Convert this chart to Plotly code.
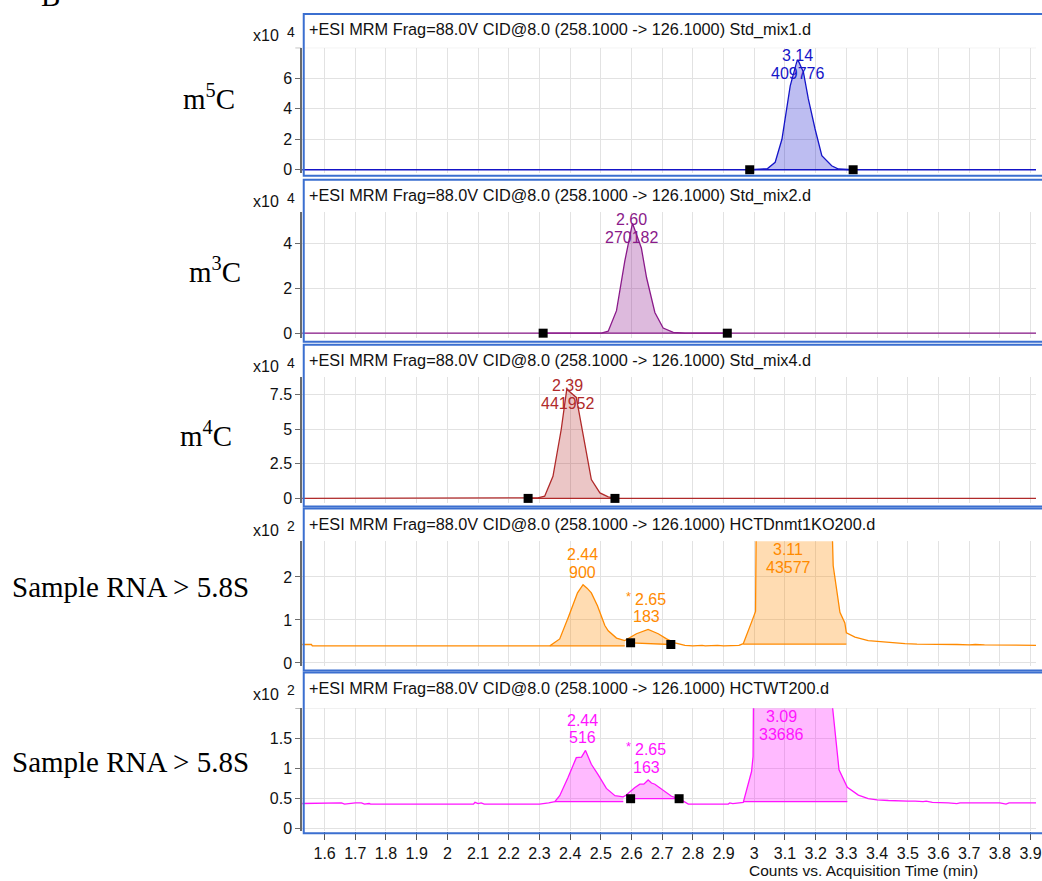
import plotly.graph_objects as go

W, H = 1042, 881

# ---------------- shared axis text ----------------
x_tick_vals = [1.6, 1.7, 1.8, 1.9, 2.0, 2.1, 2.2, 2.3, 2.4, 2.5, 2.6, 2.7,
               2.8, 2.9, 3.0, 3.1, 3.2, 3.3, 3.4, 3.5, 3.6, 3.7, 3.8, 3.9]
x_tick_text = ["1.6", "1.7", "1.8", "1.9", "2", "2.1", "2.2", "2.3", "2.4", "2.5", "2.6", "2.7",
               "2.8", "2.9", "3", "3.1", "3.2", "3.3", "3.4", "3.5", "3.6", "3.7", "3.8", "3.9"]
x_title = "Counts vs. Acquisition Time (min)"
figure_letter = "B"

headers = [
    "+ESI MRM Frag=88.0V CID@8.0 (258.1000 -> 126.1000) Std_mix1.d",
    "+ESI MRM Frag=88.0V CID@8.0 (258.1000 -> 126.1000) Std_mix2.d",
    "+ESI MRM Frag=88.0V CID@8.0 (258.1000 -> 126.1000) Std_mix4.d",
    "+ESI MRM Frag=88.0V CID@8.0 (258.1000 -> 126.1000) HCTDnmt1KO200.d",
    "+ESI MRM Frag=88.0V CID@8.0 (258.1000 -> 126.1000) HCTWT200.d",
]
row_labels = ["m<sup>5</sup>C", "m<sup>3</sup>C", "m<sup>4</sup>C",
              "Sample RNA > 5.8S", "Sample RNA > 5.8S"]
exponents = ["4", "4", "4", "2", "2"]

# ---------------- panel 1: m5C standard (x10^4 counts) ----------------
m5c_time = [1.52, 2.985, 3.043, 3.068, 3.090, 3.117, 3.138, 3.142, 3.160, 3.176,
            3.198, 3.220, 3.252, 3.274, 3.322, 3.93]
m5c_counts = [0.0, 0.0, 0.08, 0.49, 2.0, 5.5, 7.05, 7.2, 6.4, 4.64,
              2.67, 0.92, 0.26, 0.05, 0.0, 0.0]
m5c_int_start = [2.985]
m5c_int_end = [3.322]
m5c_base_start = [0.0]
m5c_base_end = [0.0]
m5c_int_marked = [True]
m5c_peak_rt = ["3.14"]
m5c_peak_area = ["409776"]
m5c_peak_star = [False]
m5c_ytick_vals = [0, 2, 4, 6]
m5c_ytick_text = ["0", "2", "4", "6"]
m5c_top_tick = [8]

# ---------------- panel 2: m3C standard (x10^4 counts) ----------------
m3c_time = [1.52, 2.312, 2.502, 2.524, 2.551, 2.578, 2.603, 2.632, 2.649, 2.676,
            2.703, 2.736, 2.774, 2.912, 3.93]
m3c_counts = [0.0, 0.0, 0.0, 0.09, 1.0, 3.2, 4.88, 3.78, 2.46, 0.92,
              0.23, 0.04, 0.0, 0.0, 0.0]
m3c_int_start = [2.312]
m3c_int_end = [2.912]
m3c_base_start = [0.0]
m3c_base_end = [0.0]
m3c_int_marked = [True]
m3c_peak_rt = ["2.60"]
m3c_peak_area = ["270182"]
m3c_peak_star = [False]
m3c_ytick_vals = [0, 2, 4]
m3c_ytick_text = ["0", "2", "4"]
m3c_top_tick = []

# ---------------- panel 3: m4C standard (x10^4 counts) ----------------
m4c_time = [1.52, 2.263, 2.295, 2.317, 2.344, 2.371, 2.389, 2.42, 2.442, 2.469,
            2.497, 2.524, 2.546, 2.556, 3.93]
m4c_counts = [0.0, 0.0, 0.04, 0.16, 1.6, 5.0, 7.9, 7.3, 4.57, 1.36,
              0.4, 0.11, 0.02, 0.0, 0.0]
m4c_int_start = [2.263]
m4c_int_end = [2.546]
m4c_base_start = [0.0]
m4c_base_end = [0.0]
m4c_int_marked = [True]
m4c_peak_rt = ["2.39"]
m4c_peak_area = ["441952"]
m4c_peak_star = [False]
m4c_ytick_vals = [0, 2.5, 5, 7.5]
m4c_ytick_text = ["0", "2.5", "5", "7.5"]
m4c_top_tick = []

# ---------------- panel 4: HCT Dnmt1 KO sample (x10^2 counts) ----------------
ko_time = [1.52, 1.557, 1.560, 2.334, 2.366, 2.391, 2.395, 2.424, 2.442, 2.455,
           2.469, 2.489, 2.513, 2.524, 2.551, 2.578, 2.597, 2.616, 2.654, 2.687,
           2.714, 2.728, 2.741, 2.774, 2.80, 2.83, 2.84, 2.88, 2.90, 2.95,
           2.964, 2.991, 3.004, 3.02, 3.05, 3.08, 3.11, 3.14, 3.17, 3.20,
           3.235, 3.257, 3.279, 3.295, 3.30, 3.328, 3.371, 3.40, 3.437, 3.491,
           3.53, 3.60, 3.62, 3.66, 3.70, 3.72, 3.75, 3.80, 3.85, 3.93]
ko_counts = [0.43, 0.43, 0.40, 0.40, 0.56, 0.99, 1.08, 1.63, 1.82, 1.74,
             1.63, 1.33, 0.87, 0.75, 0.58, 0.52, 0.61, 0.68, 0.78, 0.68,
             0.56, 0.51, 0.47, 0.41, 0.40, 0.41, 0.40, 0.41, 0.40, 0.41,
             0.45, 0.95, 1.2, 16.0, 48.0, 75.0, 86.0, 78.0, 55.0, 30.0,
             8.0, 2.26, 1.18, 0.93, 0.70, 0.60, 0.52, 0.50, 0.49, 0.45,
             0.44, 0.44, 0.43, 0.43, 0.42, 0.43, 0.42, 0.42, 0.41, 0.41]
ko_int_start = [2.334, 2.597, 2.964]
ko_int_end = [2.578, 2.728, 3.30]
ko_base_start = [0.40, 0.47, 0.44]
ko_base_end = [0.40, 0.43, 0.44]
ko_int_marked = [False, True, False]
ko_peak_rt = ["2.44", "2.65", "3.11"]
ko_peak_area = ["900", "183", "43577"]
ko_peak_star = [False, True, False]
ko_ytick_vals = [0, 1, 2]
ko_ytick_text = ["0", "1", "2"]
ko_top_tick = []

# ---------------- panel 5: HCT WT sample (x10^2 counts) ----------------
wt_time = [1.52, 1.56, 1.58, 1.60, 1.62, 1.64, 1.655, 1.665, 1.68, 1.70,
           1.72, 1.73, 1.745, 1.75, 2.085, 2.09, 2.10, 2.11, 2.12, 2.30,
           2.33, 2.35, 2.366, 2.393, 2.42, 2.437, 2.45, 2.462, 2.469, 2.491,
           2.518, 2.546, 2.573, 2.583, 2.597, 2.61, 2.627, 2.64, 2.654, 2.665,
           2.676, 2.69, 2.703, 2.73, 2.755, 2.785, 2.80, 2.915, 2.92, 2.93,
           2.964, 2.991, 2.996, 3.02, 3.05, 3.09, 3.12, 3.15, 3.18, 3.21,
           3.235, 3.245, 3.276, 3.303, 3.339, 3.371, 3.40, 3.437, 3.47, 3.50,
           3.524, 3.55, 3.56, 3.58, 3.632, 3.66, 3.67, 3.72, 3.80, 3.82,
           3.83, 3.93]
wt_counts = [0.42, 0.42, 0.43, 0.42, 0.43, 0.42, 0.43, 0.41, 0.42, 0.43,
             0.43, 0.41, 0.42, 0.41, 0.41, 0.44, 0.42, 0.43, 0.41, 0.41,
             0.43, 0.45, 0.55, 0.85, 1.18, 1.19, 1.30, 1.14, 1.07, 0.90,
             0.67, 0.55, 0.53, 0.56, 0.63, 0.68, 0.74, 0.74, 0.81, 0.76,
             0.74, 0.69, 0.63, 0.54, 0.50, 0.41, 0.41, 0.41, 0.43, 0.42,
             0.44, 0.95, 1.2, 14.0, 45.0, 72.0, 66.0, 48.0, 30.0, 14.0,
             8.0, 2.5, 0.98, 0.69, 0.56, 0.50, 0.48, 0.47, 0.46, 0.46,
             0.46, 0.45, 0.46, 0.44, 0.43, 0.42, 0.43, 0.43, 0.43, 0.41,
             0.43, 0.43]
wt_int_start = [2.35, 2.597, 2.964]
wt_int_end = [2.573, 2.755, 3.303]
wt_base_start = [0.45, 0.50, 0.45]
wt_base_end = [0.45, 0.50, 0.45]
wt_int_marked = [False, True, False]
wt_peak_rt = ["2.44", "2.65", "3.09"]
wt_peak_area = ["516", "163", "33686"]
wt_peak_star = [False, True, False]
wt_ytick_vals = [0, 0.5, 1, 1.5]
wt_ytick_text = ["0", "0.5", "1", "1.5"]
wt_top_tick = [2]

# ---------------- styling / layout (pixels) ----------------
line_colors = ["#1515c8", "#8a1a8a", "#b02a2a", "#ff8a00", "#ff14ff"]
fill_colors = ["rgba(0,0,200,0.26)", "rgba(128,0,128,0.27)", "rgba(178,34,34,0.26)",
               "rgba(255,140,0,0.30)", "rgba(255,0,255,0.27)"]
y_ranges = [[-0.2, 8.0], [-0.2, 5.4], [-0.3, 8.75], [-0.08, 2.83], [-0.04, 2.0]]
border_top = [14, 181, 347, 512, 677]
border_bottom = [177, 344, 510, 675, 839]
plot_top = [48, 213, 380, 545, 713]
plot_bottom = [174, 340, 506, 671, 837]
row_label_pos = [(210, 98), (216, 272), (207, 437), (131, 591), (131, 767)]

PLOT_X0 = 304
X_REF_PX, X_REF_VAL, PX_PER_MIN = 326.5, 1.6, 308.7
x_range = [X_REF_VAL - (X_REF_PX - PLOT_X0) / PX_PER_MIN,
           X_REF_VAL + (W - X_REF_PX) / PX_PER_MIN]

FONT = "Liberation Sans, Arial, sans-serif"
SERIF = "Liberation Serif, Times New Roman, serif"
GRID = "#e2e2e2"
BORDER = "#3b6fd0"
AXIS = "#6a6a6a"

panels = [
    dict(t=m5c_time, y=m5c_counts, s=m5c_int_start, e=m5c_int_end, bs=m5c_base_start,
         be=m5c_base_end, mk=m5c_int_marked, rt=m5c_peak_rt, area=m5c_peak_area,
         star=m5c_peak_star, tv=m5c_ytick_vals, tt=m5c_ytick_text, top=m5c_top_tick),
    dict(t=m3c_time, y=m3c_counts, s=m3c_int_start, e=m3c_int_end, bs=m3c_base_start,
         be=m3c_base_end, mk=m3c_int_marked, rt=m3c_peak_rt, area=m3c_peak_area,
         star=m3c_peak_star, tv=m3c_ytick_vals, tt=m3c_ytick_text, top=m3c_top_tick),
    dict(t=m4c_time, y=m4c_counts, s=m4c_int_start, e=m4c_int_end, bs=m4c_base_start,
         be=m4c_base_end, mk=m4c_int_marked, rt=m4c_peak_rt, area=m4c_peak_area,
         star=m4c_peak_star, tv=m4c_ytick_vals, tt=m4c_ytick_text, top=m4c_top_tick),
    dict(t=ko_time, y=ko_counts, s=ko_int_start, e=ko_int_end, bs=ko_base_start,
         be=ko_base_end, mk=ko_int_marked, rt=ko_peak_rt, area=ko_peak_area,
         star=ko_peak_star, tv=ko_ytick_vals, tt=ko_ytick_text, top=ko_top_tick),
    dict(t=wt_time, y=wt_counts, s=wt_int_start, e=wt_int_end, bs=wt_base_start,
         be=wt_base_end, mk=wt_int_marked, rt=wt_peak_rt, area=wt_peak_area,
         star=wt_peak_star, tv=wt_ytick_vals, tt=wt_ytick_text, top=wt_top_tick),
]
for p in panels:
    assert len(p["t"]) == len(p["y"])


def py(px):
    return 1 - px / H


def px_x(px):
    return px / W


fig = go.Figure()
layout = dict(width=W, height=H, margin=dict(l=0, r=0, t=0, b=0),
              paper_bgcolor="white", plot_bgcolor="white", showlegend=False,
              font=dict(family=FONT, size=16, color="#111"))
annotations = []
shapes = []

for i, p in enumerate(panels):
    n = i + 1
    xa = "x" if n == 1 else f"x{n}"
    ya = "y" if n == 1 else f"y{n}"
    col = line_colors[i]

    # integrated-area fills, baselines
    for s, e, bs, be, mk in zip(p["s"], p["e"], p["bs"], p["be"], p["mk"]):
        seg_t = [t for t in p["t"] if s <= t <= e]
        seg_y = [v for t, v in zip(p["t"], p["y"]) if s <= t <= e]
        fig.add_trace(go.Scatter(x=seg_t + [e, s], y=seg_y + [be, bs], xaxis=xa, yaxis=ya,
                                 mode="lines", fill="toself", fillcolor=fill_colors[i],
                                 line=dict(width=0), hoverinfo="skip"))
        fig.add_trace(go.Scatter(x=[s, e], y=[bs, be], xaxis=xa, yaxis=ya, mode="lines",
                                 line=dict(color=col, width=1.3), hoverinfo="skip"))
    # chromatogram
    fig.add_trace(go.Scatter(x=p["t"], y=p["y"], xaxis=xa, yaxis=ya, mode="lines",
                             line=dict(color=col, width=1.3), hoverinfo="skip"))
    # integration markers
    mx, my = [], []
    for s, e, bs, be, mk in zip(p["s"], p["e"], p["bs"], p["be"], p["mk"]):
        if mk:
            mx += [s, e]
            my += [bs, be]
    if mx:
        fig.add_trace(go.Scatter(x=mx, y=my, xaxis=xa, yaxis=ya, mode="markers",
                                 marker=dict(symbol="square", size=9, color="black"),
                                 cliponaxis=False, hoverinfo="skip"))

    last = (n == len(panels))
    layout["xaxis" if n == 1 else f"xaxis{n}"] = dict(
        domain=[px_x(PLOT_X0), 1.0], range=x_range, anchor=ya,
        tickvals=x_tick_vals, ticktext=x_tick_text, showgrid=True, gridcolor=GRID,
        gridwidth=1, zeroline=False, showline=False,
        showticklabels=last, ticks="outside" if last else "", ticklen=8,
        ticklabeloverflow="allow",
        tickcolor="#555", tickwidth=1, tickfont=dict(size=16, family=FONT, color="#111"))
    layout["yaxis" if n == 1 else f"yaxis{n}"] = dict(
        domain=[py(plot_bottom[i]), py(plot_top[i])], range=y_ranges[i], anchor=xa,
        tickvals=p["tv"], ticktext=p["tt"], showgrid=True, gridcolor=GRID, gridwidth=1,
        zeroline=False, showline=True, linecolor=AXIS, linewidth=2,
        ticks="outside", ticklen=5, tickcolor=AXIS, tickwidth=1,
        tickfont=dict(size=16, family=FONT, color="#111"))

    # unlabelled top tick + grid line
    for tv in p["top"]:
        shapes.append(dict(type="line", xref=f"{xa} domain", yref=ya, x0=0, x1=1, y0=tv, y1=tv,
                           line=dict(color=GRID, width=1), layer="below"))
        shapes.append(dict(type="line", xref="paper", yref=ya, x0=px_x(PLOT_X0 - 7),
                           x1=px_x(PLOT_X0 - 1), y0=tv, y1=tv,
                           line=dict(color=AXIS, width=1), layer="above"))

    # panel frame
    shapes.append(dict(type="rect", xref="paper", yref="paper",
                       x0=px_x(PLOT_X0 + 1.5), x1=px_x(W + 20),
                       y0=py(border_bottom[i]), y1=py(border_top[i]),
                       line=dict(color=BORDER, width=2), fillcolor="rgba(0,0,0,0)",
                       layer="above"))
    # header
    annotations.append(dict(text=headers[i], xref="paper", yref="paper",
                            x=px_x(309), y=py(border_top[i] + 16), xanchor="left",
                            yanchor="middle", showarrow=False,
                            font=dict(size=16.3, family=FONT, color="#111")))
    # scale factor
    annotations.append(dict(text="x10", xref="paper", yref="paper",
                            x=px_x(283), y=py(border_top[i] + 22), xanchor="right",
                            yanchor="middle", showarrow=False,
                            font=dict(size=16, family=FONT, color="#111")))
    annotations.append(dict(text=exponents[i], xref="paper", yref="paper",
                            x=px_x(287), y=py(border_top[i] + 18), xanchor="left",
                            yanchor="middle", showarrow=False,
                            font=dict(size=14, family=FONT, color="#111")))
    # row label
    lx, ly = row_label_pos[i]
    annotations.append(dict(text=row_labels[i], xref="paper", yref="paper",
                            x=px_x(lx), y=py(ly), xanchor="center", yanchor="middle",
                            showarrow=False, font=dict(size=29, family=SERIF, color="black")))

    # peak labels
    y0, y1 = y_ranges[i]
    scale = (plot_bottom[i] - plot_top[i]) / (y1 - y0)
    for rt, area, star in zip(p["rt"], p["area"], p["star"]):
        rtv = float(rt)
        apex = max(v for t, v in zip(p["t"], p["y"]) if abs(t - rtv) <= 0.02)
        off = (y1 - apex) * scale
        if off - 30 < 8:
            yref, yy, sh1, sh2 = f"{ya} domain", 1.0, -8, -26
        else:
            yref, yy, sh1, sh2 = ya, apex, 30, 12.5
        f = dict(size=16, family=FONT, color=col)
        annotations.append(dict(text=rt, xref=xa, yref=yref, x=rtv, y=yy, yshift=sh1,
                                xshift=4 if star else 0,
                                xanchor="center", yanchor="middle", showarrow=False, font=f))
        annotations.append(dict(text=area, xref=xa, yref=yref, x=rtv, y=yy, yshift=sh2,
                                xanchor="center", yanchor="middle", showarrow=False, font=f))
        if star:
            annotations.append(dict(text="*", xref=xa, yref=yref, x=rtv, y=yy, yshift=sh1 + 3,
                                    xshift=-14, xanchor="right", yanchor="middle",
                                    showarrow=False, font=dict(size=13, family=FONT, color=col)))

# x-axis title and figure letter
annotations.append(dict(text=x_title, xref="paper", yref="paper", x=px_x(869), y=py(876),
                        xanchor="center", yanchor="middle", showarrow=False,
                        font=dict(size=15.5, family=FONT, color="#111")))
annotations.append(dict(text=figure_letter, xref="paper", yref="paper", x=px_x(51), y=py(-4),
                        xanchor="center", yanchor="middle", showarrow=False,
                        font=dict(size=29, family=SERIF, color="black")))

layout["annotations"] = annotations
layout["shapes"] = shapes
fig.update_layout(**layout)
fig.write_html("out.html")
